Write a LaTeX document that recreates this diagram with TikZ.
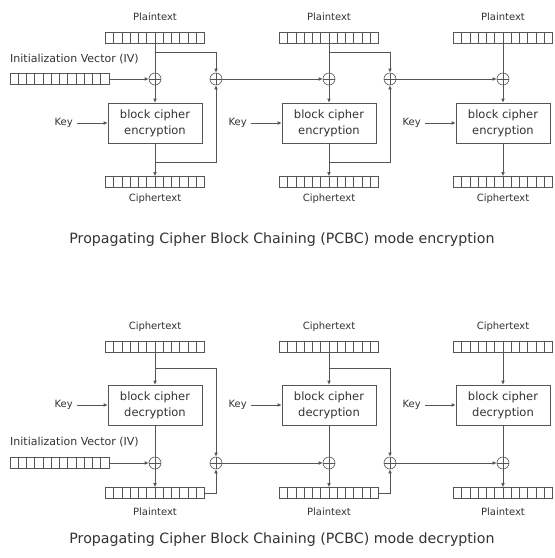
\documentclass[tikz,border=0pt]{standalone}
\usepackage{fontspec}
\setmainfont{DejaVu Sans}
\usetikzlibrary{arrows.meta}
\definecolor{ink}{HTML}{333333}
\definecolor{wire}{HTML}{555555}
\tikzset{
  lbl/.style={text=ink, font=\fontsize{10}{12}\selectfont, inner sep=0pt},
  keylbl/.style={lbl, anchor=east},
  ivlbl/.style={text=ink, font=\fontsize{11}{13}\selectfont, inner sep=0pt, anchor=west},
  ttl/.style={text=ink, font=\fontsize{14.2}{16}\selectfont, inner sep=0pt},
  reg/.style={draw=wire, line width=0.6pt, minimum width=99pt, minimum height=11pt, inner sep=0pt,
    path picture={\foreach \i in {1,...,11}{
      \draw[wire, line width=0.6pt] ([xshift=\i*8.25pt]path picture bounding box.south west) --
            ([xshift=\i*8.25pt]path picture bounding box.north west);}}},
  xor/.style={draw=wire, line width=0.6pt, circle, minimum size=12pt, inner sep=0pt,
    path picture={
      \draw[wire, line width=0.6pt] (path picture bounding box.north) -- (path picture bounding box.south)
        (path picture bounding box.west) -- (path picture bounding box.east);}},
  cipherbox/.style={draw=wire, line width=0.6pt, minimum width=94pt, minimum height=40pt, inner sep=0pt,
    text=ink, align=center, font=\fontsize{11.5}{16}\selectfont},
  wireline/.style={wire, line width=0.6pt},
  arr/.style={wireline, -{Latex[length=4pt,width=3.5pt]}},
  keyarr/.style={arr, shorten <=4pt},
}
\begin{document}
\begin{tikzpicture}[x=1pt, y=-1pt]
\useasboundingbox[fill=white] (0,0) rectangle (555,558);

% ---------- encryption ----------
\foreach \n/\cx in {1/155, 2/329, 3/503}{
  \node[lbl] (ep\n l) at (\cx,17) {Plaintext};
  \node[reg] (ep\n) at (\cx,38) {};
  \node[xor] (ex\n) at (\cx,79) {};
  \node[cipherbox] (eb\n) at (\cx,123) {block cipher\\encryption};
  \node[keylbl] (ek\n) at (\cx-82,123) {Key};
  \node[reg] (ec\n) at (\cx,182) {};
  \node[lbl] (ec\n l) at (\cx,199) {Ciphertext};
  \draw[wireline] (ep\n) -- (ex\n);
  \draw[arr] (ex\n) -- (eb\n);
  \draw[keyarr] (ek\n) -- (eb\n);
  \draw[arr] (eb\n) -- (ec\n);
}
\foreach \n/\cx in {1/155, 2/329}{
  \node[xor] (ey\n) at (\cx+61,79) {};
  \coordinate (etop\n) at (\cx,52);
  \coordinate (ebot\n) at (\cx,162);
  \draw[arr] (etop\n) -| (ey\n);
  \draw[arr] (ebot\n) -| (ey\n);
}
\draw[arr] (ey1) -- (ex2);
\draw[arr] (ey2) -- (ex3);
\node[ivlbl] (eivl) at (10,59) {Initialization Vector (IV)};
\node[reg] (eiv) at (59.5,79) {};
\draw[arr] (eiv) -- (ex1);
\node[ttl] (etitle) at (282,240) {Propagating Cipher Block Chaining (PCBC) mode encryption};

% ---------- decryption ----------
\foreach \n/\cx in {1/155, 2/329, 3/503}{
  \node[lbl] (dc\n l) at (\cx,327) {Ciphertext};
  \node[reg] (dc\n) at (\cx,347) {};
  \node[cipherbox] (db\n) at (\cx,405) {block cipher\\decryption};
  \node[keylbl] (dk\n) at (\cx-82,405) {Key};
  \node[xor] (dx\n) at (\cx,463) {};
  \node[reg] (dp\n) at (\cx,493) {};
  \node[lbl] (dp\n l) at (\cx,512) {Plaintext};
  \draw[arr] (dc\n) -- (db\n);
  \draw[keyarr] (dk\n) -- (db\n);
  \draw[wireline] (db\n) -- (dx\n);
  \draw[arr] (dx\n) -- (dp\n);
}
\foreach \n/\cx in {1/155, 2/329}{
  \node[xor] (dy\n) at (\cx+61,463) {};
  \coordinate (dtop\n) at (\cx,368);
  \draw[arr] (dtop\n) -| (dy\n);
  \draw[arr] (dp\n.east) -| (dy\n);
}
\draw[arr] (dy1) -- (dx2);
\draw[arr] (dy2) -- (dx3);
\node[ivlbl] (divl) at (10,442) {Initialization Vector (IV)};
\node[reg] (div) at (59.5,463) {};
\draw[arr] (div) -- (dx1);
\node[ttl] (dtitle) at (282,540) {Propagating Cipher Block Chaining (PCBC) mode decryption};
\end{tikzpicture}
\end{document}
